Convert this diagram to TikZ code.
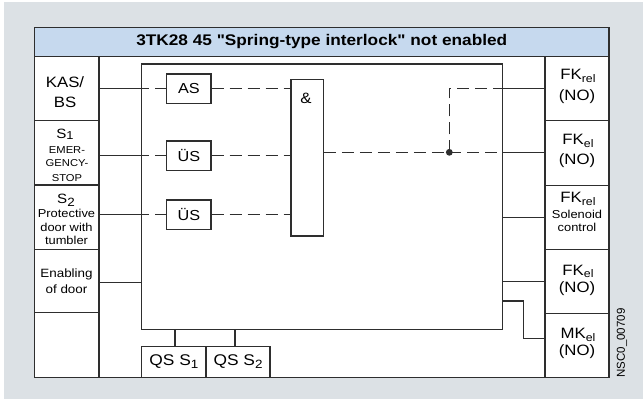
\documentclass[tikz,border=0pt]{standalone}
\usepackage{fontspec}
\setmainfont{Liberation Sans}[FakeStretch=1.12]
\newfontfamily\plainsans{Liberation Sans}
\newfontfamily\titlefont{Liberation Sans Bold}[FakeStretch=1.12]
\definecolor{bggrey}{HTML}{DCE1E5}
\definecolor{titleblue}{HTML}{C6D9EE}
\definecolor{lc}{HTML}{2E2E2E}
\newcommand{\fsz}[1]{\fontsize{#1}{#1}\selectfont}
\newcommand{\lsub}[1]{{\fsz{11}\raisebox{-2.8pt}{#1}}}
\begin{document}
\begin{tikzpicture}[x=1pt,y=-1pt,
  box/.style={draw=lc,line width=1.3pt,fill=white,inner sep=0pt},
  wire/.style={draw=lc,line width=1.3pt},
  dwire/.style={draw=lc,line width=1.3pt,dash pattern=on 12pt off 6pt},
  txt/.style={inner sep=0pt,anchor=base,text=black,font=\fsz{15}},
  small/.style={txt,font=\fsz{11.5}},
  tiny/.style={txt,font=\fsz{10}},
]
\useasboundingbox (0,0) rectangle (643,399);
\fill[white] (0,0) rectangle (643,399);
\fill[bggrey] (4,2) rectangle (643,399);

% outer frame and title
\node[box,minimum width=574.5pt,minimum height=320.6pt] (frame) at (321.75,217) {};
\node[box,fill=titleblue,minimum width=574.5pt,minimum height=29pt] (title) at (321.75,42)
  {\titlefont\fsz{15.4}3TK28 45 "Spring-type interlock" not enabled};

% left column cells
\node[box,minimum width=64.5pt,minimum height=64pt]   (kas)  at (66.75,88.7) {};
\node[box,minimum width=64.5pt,minimum height=64.3pt] (s1)   at (66.75,152.85) {};
\node[box,minimum width=64.5pt,minimum height=64.3pt] (s2)   at (66.75,217.15) {};
\node[box,minimum width=64.5pt,minimum height=63.4pt] (enab) at (66.75,281) {};
\node[box,minimum width=64.5pt,minimum height=64.6pt] (lemp) at (66.75,345) {};

% right column cells
\node[box,minimum width=64pt,minimum height=64pt]   (fk1) at (577,88.7) {};
\node[box,minimum width=64pt,minimum height=64.6pt] (fk2) at (577,153) {};
\node[box,minimum width=64pt,minimum height=64pt]   (fk3) at (577,217.3) {};
\node[box,minimum width=64pt,minimum height=64pt]   (fk4) at (577,281.3) {};
\node[box,minimum width=64pt,minimum height=64pt]   (mk)  at (577,345.3) {};

% inner block
\node[box,minimum width=360.6pt,minimum height=265.3pt] (inner) at (322,196.65) {};
\node[box,minimum width=44.3pt,minimum height=29.3pt,font=\fsz{14.5}] (as)  at (188.85,88.7) {AS};
\node[box,minimum width=44.3pt,minimum height=29.3pt,font=\fsz{14.5}] (ue1) at (188.85,155.5) {ÜS};
\node[box,minimum width=44.3pt,minimum height=29.3pt,font=\fsz{14.5}] (ue2) at (188.85,214.6) {ÜS};
\node[box,minimum width=32.3pt,minimum height=156.7pt] (and) at (307.15,157.65) {};
\node[txt] (andlbl) at (306,103) {\&};

% QS boxes
\node[box,minimum width=64.3pt,minimum height=30.6pt,font=\fsz{15.5}] (qs1) at (173.85,362)
  {QS S{\fsz{12}\raisebox{-3pt}{1}}};
\node[box,minimum width=64pt,minimum height=30.6pt,font=\fsz{15.5}] (qs2) at (238,362)
  {QS S{\fsz{12}\raisebox{-3pt}{2}}};

% left labels
\node[txt] (t1) at (65,87.3) {KAS/};
\node[txt] (t2) at (65,107.3) {BS};
\node[txt,font=\fsz{13.5}] (t3) at (65,138.7) {S{\fsz{11.5}\raisebox{-1pt}{1}}};
\node[tiny] (t4) at (67,153.3) {EMER-};
\node[tiny] (t5) at (67,166.7) {GENCY-};
\node[tiny] (t6) at (67,181.7) {STOP};
\node[txt,font=\fsz{13.5}] (t7) at (66,203) {S{\fsz{12}\raisebox{-3pt}{2}}};
\node[small] (t8) at (66.5,217.7) {Protective};
\node[small] (t9) at (66.5,231.5) {door with};
\node[small] (t10) at (66.5,244.5) {tumbler};
\node[txt,font=\fsz{12}] (t11) at (66.5,277.5) {Enabling};
\node[txt,font=\fsz{12}] (t12) at (66.5,293) {of door};

% right labels
\node[txt] (r1) at (578,79.3) {FK\lsub{rel}};
\node[txt] (r2) at (577,100.8) {(NO)};
\node[txt] (r3) at (578,144.3) {FK\lsub{el}};
\node[txt] (r4) at (577,164.8) {(NO)};
\node[txt] (r5) at (578,202.7) {FK\lsub{rel}};
\node[small] (r6) at (577,218) {Solenoid};
\node[small] (r7) at (577,231.5) {control};
\node[txt] (r8) at (578,275) {FK\lsub{el}};
\node[txt] (r9) at (577,292.5) {(NO)};
\node[txt] (r10) at (578,338.3) {MK\lsub{el}};
\node[txt] (r11) at (577,355.5) {(NO)};

\node[rotate=90,inner sep=0pt,font=\plainsans\fsz{11.5}] (code) at (622,343) {NSC0\_00709};

% coordinates
\coordinate (dot) at (449.3,152.3);
\coordinate (up) at (449.3,88.3);
\coordinate (enw) at (99,282.7);
\coordinate (mkb1) at (523.3,301);
\coordinate (mkb2) at (523.3,338.7);
\coordinate (q1x) at (175,0);
\coordinate (q2x) at (235,0);

% left wires
\draw[wire] (kas.east |- as) -- (inner.west |- as);
\draw[dwire,dash phase=4pt] (inner.west |- as) -- (as.west);
\draw[wire] (s1.east |- ue1) -- (inner.west |- ue1);
\draw[dwire,dash phase=4pt] (inner.west |- ue1) -- (ue1.west);
\draw[wire] (s2.east |- ue2) -- (inner.west |- ue2);
\draw[dwire,dash phase=4pt] (inner.west |- ue2) -- (ue2.west);
\draw[wire] (enab.east |- enw) -- (inner.west |- enw);

% gate wires
\draw[dwire] (as.east) -- (and.west |- as);
\draw[dwire] (ue1.east) -- (and.west |- ue1);
\draw[dwire] (ue2.east) -- (and.west |- ue2);

% output wires
\draw[dwire] (and.east |- dot) -- (dot);
\draw[dwire] (dot) -- (inner.east |- dot);
\draw[wire] (inner.east |- dot) -- (fk2.west |- dot);
\draw[dwire] (dot) -- (up) -- (inner.east |- up);
\draw[wire] (inner.east |- up) -- (fk1.west |- up);
\fill[lc] (dot) circle[radius=3.4pt];
\draw[wire] (inner.east |- fk3.west) -- (fk3.west);
\draw[wire] (inner.east |- fk4.west) -- (fk4.west);
\draw[wire] (inner.east |- mkb1) -- (mkb1) -- (mkb2) -- (mk.west |- mkb2);

% QS wires
\draw[wire] (inner.south -| q1x) -- (qs1.north -| q1x);
\draw[wire] (inner.south -| q2x) -- (qs2.north -| q2x);
\end{tikzpicture}
\end{document}
